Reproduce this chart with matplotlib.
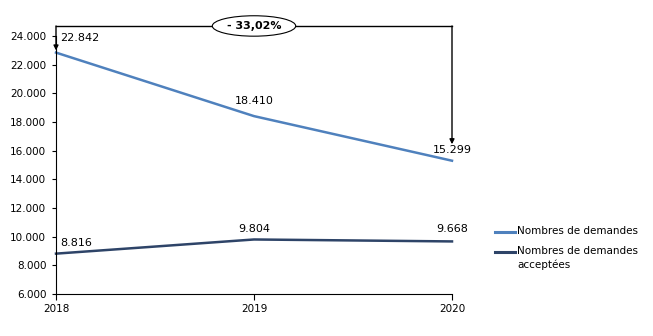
import matplotlib
matplotlib.use("Agg")
import matplotlib.pyplot as plt
from matplotlib.lines import Line2D

years = ["2018", "2019", "2020"]
demandes = [22842, 18410, 15299]
acceptees = [8816, 9804, 9668]
label_demandes = ["22.842", "18.410", "15.299"]
label_acceptees = ["8.816", "9.804", "9.668"]
yticks = [6000, 8000, 10000, 12000, 14000, 16000, 18000, 20000, 22000, 24000]
ytick_labels = ["6.000", "8.000", "10.000", "12.000", "14.000", "16.000", "18.000", "20.000", "22.000", "24.000"]
variation = "- 33,02%"
series_names = ["Nombres de demandes", "Nombres de demandes\nacceptées"]

plt.rcParams['font.family'] = ['DejaVu Sans']
W, H = 653, 336
fig = plt.figure(figsize=(W/100, H/100), dpi=100)
ax = fig.add_axes([56/W, 1-294/H, (452-56)/W, (294-36)/H])

x = list(range(len(years)))
colors = ["#4F81BD", "#2E4468"]
ax.plot(x, demandes, color=colors[0], lw=1.8, clip_on=False)
ax.plot(x, acceptees, color=colors[1], lw=1.8, clip_on=False)

ax.set_xlim(0, 2)
ax.set_ylim(6000, 24000)
ax.set_xticks(x)
ax.set_xticklabels(years, fontsize=7.5)
ax.set_yticks(yticks)
ax.set_yticklabels(ytick_labels, fontsize=7.5)
for s in ["top", "right"]:
    ax.spines[s].set_visible(False)
ax.tick_params(axis="x", length=4, pad=3)
ax.tick_params(axis="y", length=3, pad=4)

fs = 8
ax.annotate(label_demandes[0], (x[0], demandes[0]), xytext=(3, 7), textcoords="offset points", ha="left", va="bottom", fontsize=fs)
ax.annotate(label_demandes[1], (x[1], demandes[1]), xytext=(0, 7), textcoords="offset points", ha="center", va="bottom", fontsize=fs)
ax.annotate(label_demandes[2], (x[2], demandes[2]), xytext=(0, 4), textcoords="offset points", ha="center", va="bottom", fontsize=fs)
ax.annotate(label_acceptees[0], (x[0], acceptees[0]), xytext=(3, 4), textcoords="offset points", ha="left", va="bottom", fontsize=fs)
ax.annotate(label_acceptees[1], (x[1], acceptees[1]), xytext=(0, 4), textcoords="offset points", ha="center", va="bottom", fontsize=fs)
ax.annotate(label_acceptees[2], (x[2], acceptees[2]), xytext=(0, 5), textcoords="offset points", ha="center", va="bottom", fontsize=fs)

top_y = 24700
ax.plot([x[0], x[2]], [top_y, top_y], color="black", lw=1, clip_on=False)
ax.annotate("", xy=(x[0], demandes[0] + 150), xytext=(x[0], top_y),
            arrowprops=dict(arrowstyle="-|>", color="black", lw=1, shrinkA=0, shrinkB=0, mutation_scale=7),
            annotation_clip=False)
ax.annotate("", xy=(x[2], demandes[2] + 1150), xytext=(x[2], top_y),
            arrowprops=dict(arrowstyle="-|>", color="black", lw=1, shrinkA=0, shrinkB=0, mutation_scale=7),
            annotation_clip=False)
ax.text(1.0, top_y, variation, ha="center", va="center", fontsize=8, fontweight="bold",
        bbox=dict(boxstyle="ellipse,pad=0.2", fc="white", ec="black", lw=0.8), clip_on=False)

# legend drawn manually so handle aligns with first text line
leg_y = [232, 252]
for name, col, yy in zip(series_names, colors, leg_y):
    fig.add_artist(Line2D([495/W, 515/W], [1-yy/H, 1-yy/H], color=col, lw=2.2))
    fig.text(517/W, 1-(yy-6)/H, name, ha="left", va="top", fontsize=7.5, linespacing=1.45)

fig.savefig("out.png", dpi=100)
